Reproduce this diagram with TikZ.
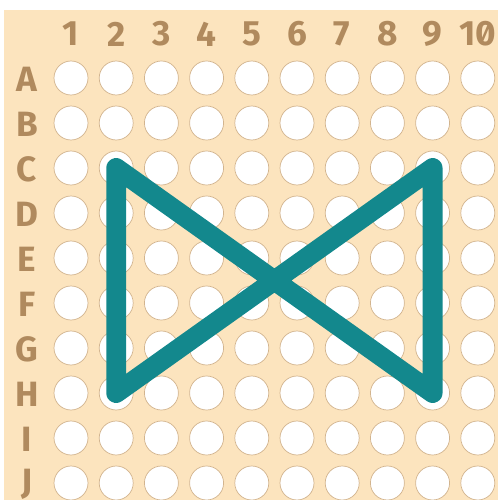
\documentclass[tikz,border=0pt]{standalone}
\usepackage{fontspec}
\setmainfont{Fira Sans}[Numbers=SlashedZero]
\usetikzlibrary{positioning}

\definecolor{board}{HTML}{FCE4BE}
\definecolor{mark}{HTML}{B08A5E}
\definecolor{lace}{HTML}{13888D}
\definecolor{rim}{HTML}{D2B48E}

\begin{document}
\begin{tikzpicture}[
		x=0.02cm, y=-0.02cm,
		hole/.style={
			circle,
			fill=white,
			draw=rim,
			line width=0.4pt,
			minimum size=0.68cm,
			inner sep=0pt
		},
		colmark/.style={
			text=mark,
			font=\fontsize{20}{20}\selectfont\bfseries
		},
		rowmark/.style={
			text=mark,
			font=\fontsize{20}{20}\selectfont\bfseries
		},
		thread/.style={
			draw=lace,
			line width=11.3pt,
			line cap=round,
			line join=round
		}
		]
		
		\useasboundingbox (0,0) rectangle (498,500);
		\fill[board] (4,10) rectangle (498,500);
		
		% column numbers
		\foreach \c in {1,...,10}
		\node[colmark] (col\c) at ({71+45.2*(\c-1)},34) {\c};
		
		% row letters and holes
		\foreach \r [count=\i] in {A,B,C,D,E,F,G,H,I,J} {
			\node[rowmark] (row\r) at (27,{79+45*(\i-1)}) {\r};
			\foreach \c in {1,...,10}
			\node[hole] (\r\c) at ({71+45.2*(\c-1)},{78+45*(\i-1)}) {};
		}
		
		% bow tie
		\draw[thread] (C2.center) -- (H2.center) -- (C9.center) -- (H9.center) -- cycle;
		
	\end{tikzpicture}
\end{document}
